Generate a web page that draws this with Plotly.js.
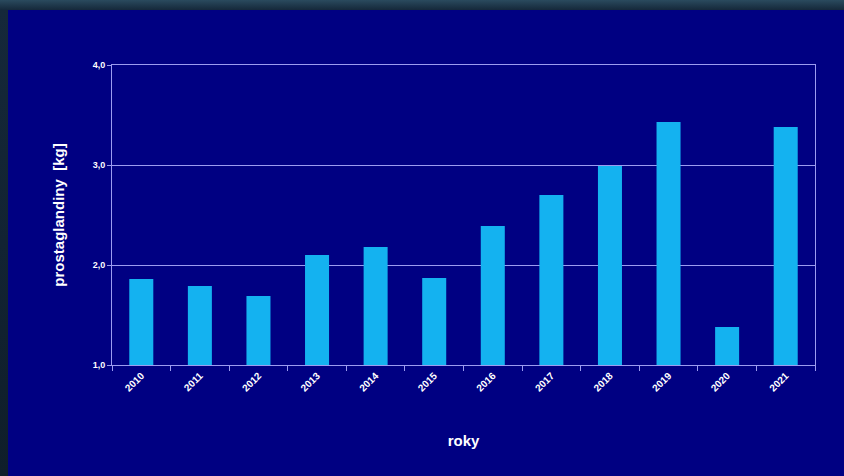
<!DOCTYPE html>
<html>
<head>
<meta charset="utf-8">
<script src="https://cdn.plot.ly/plotly-3.0.1.min.js"></script>
<style>
html,body{margin:0;padding:0;width:844px;height:476px;overflow:hidden;
background:linear-gradient(180deg,#2a4a5e 0px,#15283a 10px,#0f1e2a 476px);}
#chart{position:absolute;left:8px;top:10px;width:836px;height:466px;}
</style>
</head>
<body>
<div id="chart"></div>
<script>
const years = ['2010','2011','2012','2013','2014','2015','2016','2017','2018','2019','2020','2021'];
const prostaglandiny = [1.86, 1.79, 1.69, 2.10, 2.18, 1.87, 2.39, 2.70, 2.99, 3.43, 1.38, 3.38];
const yTicks = [1, 2, 3, 4];

const lineCol = '#9c9cf0';
const fontFam = 'Arial, "Liberation Sans", sans-serif';

const data = [{
  type: 'bar',
  x: years,
  y: prostaglandiny,
  marker: {color: '#14b2f0', line: {width: 0}},
  hoverinfo: 'x+y'
}];

const layout = {
  width: 836, height: 466,
  paper_bgcolor: '#000082',
  plot_bgcolor: '#000082',
  margin: {l: 104, r: 29, t: 55, b: 111},
  bargap: 0.59,
  showlegend: false,
  separators: ',.',
  font: {family: fontFam, color: '#ffffff'},
  xaxis: {
    type: 'category',
    showline: true, linecolor: lineCol, linewidth: 1, mirror: true,
    showgrid: false, zeroline: false,
    ticks: 'outside', tickson: 'boundaries', ticklen: 5, tickcolor: lineCol,
    tickangle: -45,
    tickfont: {size: 10, color: '#ffffff', family: fontFam, weight: 'bold'},
    title: {text: 'roky', font: {size: 15, color: '#ffffff', family: fontFam, weight: 'bold'}, standoff: 42}
  },
  yaxis: {
    range: [1, 4],
    tickvals: yTicks,
    tickformat: '.1f',
    showline: true, linecolor: lineCol, linewidth: 1, mirror: true,
    showgrid: true, gridcolor: lineCol, gridwidth: 1,
    zeroline: false,
    ticks: 'outside', ticklen: 4, tickcolor: lineCol,
    tickfont: {size: 9, color: '#ffffff', family: fontFam, weight: 'bold'},
    title: {text: 'prostaglandiny  [kg]', font: {size: 15, color: '#ffffff', family: fontFam, weight: 'bold'}, standoff: 24}
  }
};

Plotly.newPlot('chart', data, layout, {displayModeBar: false, staticPlot: true});
</script>
</body>
</html>
